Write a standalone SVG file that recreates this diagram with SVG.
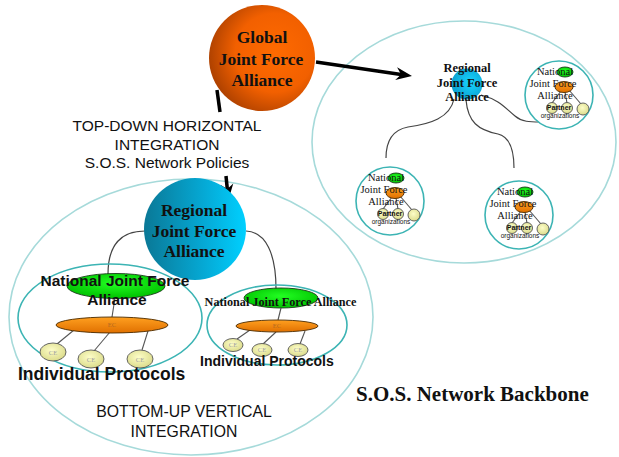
<svg xmlns="http://www.w3.org/2000/svg" width="619" height="457" viewBox="0 0 619 457">
<defs>
  <radialGradient id="gOrangeBig" cx="0.62" cy="0.45" r="0.62">
    <stop offset="0" stop-color="#ff6a00"/>
    <stop offset="0.6" stop-color="#f26000"/>
    <stop offset="1" stop-color="#b04200"/>
  </radialGradient>
  <linearGradient id="gCyanBig" x1="0" y1="0" x2="1" y2="0">
    <stop offset="0" stop-color="#0a7896"/>
    <stop offset="0.6" stop-color="#05aad6"/>
    <stop offset="1" stop-color="#00d0ff"/>
  </linearGradient>
  <radialGradient id="gCyanSmall" cx="0.6" cy="0.45" r="0.6">
    <stop offset="0" stop-color="#18d4ff"/>
    <stop offset="1" stop-color="#0aa0d0"/>
  </radialGradient>
  <radialGradient id="gGreen" cx="0.5" cy="0.4" r="0.6">
    <stop offset="0" stop-color="#22ff22"/>
    <stop offset="1" stop-color="#00c000"/>
  </radialGradient>
  <linearGradient id="gOrange" x1="0" y1="0" x2="0" y2="1">
    <stop offset="0" stop-color="#ffa020"/>
    <stop offset="1" stop-color="#e07000"/>
  </linearGradient>
  <radialGradient id="gPale" cx="0.45" cy="0.4" r="0.6">
    <stop offset="0" stop-color="#fdfdc8"/>
    <stop offset="1" stop-color="#dcdc8c"/>
  </radialGradient>
  <marker id="head" markerUnits="userSpaceOnUse" markerWidth="20" markerHeight="16" viewBox="-17 -8 20 16" refX="-11" refY="0" orient="auto">
    <path d="M0,0 L-16,-6.5 L-11,0 L-16,6.5 Z" fill="#000"/>
  </marker>
  <style>
    .big { fill: none; stroke: #a6dada; stroke-width: 1.6; }
    .clus { fill: none; stroke: #3cb4b4; stroke-width: 1.6; }
    .sclus { fill: #fff; stroke: #3cb4b4; stroke-width: 1.6; }
    .green { fill: url(#gGreen); stroke: #1a3a1a; stroke-width: 0.9; }
    .orange { fill: url(#gOrange); stroke: #4a2a00; stroke-width: 0.9; }
    .pale { fill: url(#gPale); stroke: #555; stroke-width: 0.9; }
    .link { fill: none; stroke: #555; stroke-width: 1.1; }
    .curve { fill: none; stroke: #444; stroke-width: 1.2; }
    .arrow { fill: none; stroke: #000; stroke-width: 3.5; }
    .serifb { font-family: "Liberation Serif", "Times New Roman", serif; font-weight: bold; fill: #111; }
    .serif { font-family: "Liberation Serif", "Times New Roman", serif; fill: #111; }
    .sans { font-family: "Liberation Sans", Arial, sans-serif; fill: #111; }
    .tiny { font-family: "Liberation Serif", serif; font-size: 6.5px; fill: #a0a0a0; }
    .tinyo { font-family: "Liberation Serif", serif; font-size: 6.5px; fill: #b56a20; }
  </style>
</defs>
<rect x="0" y="0" width="619" height="457" fill="#ffffff"/>

<!-- big backbone ellipses -->
<g id="backbone-right">
  <ellipse class="big" cx="464" cy="142" rx="152" ry="121"/>
</g>
<g id="backbone-left">
  <ellipse class="big" cx="191" cy="317" rx="182" ry="138"/>
</g>

<!-- connectors -->
<g id="connectors">
  <path class="curve" d="M145,231 C122,231 108,244 108,274"/>
  <path class="curve" d="M246,231 C266,232 276,254 276,289"/>
  <path class="curve" d="M454,99 C450,118 430,124 408,127 C392,130 386,142 386,158"/>
  <path class="curve" d="M466,100 C468,122 478,130 498,134 C510,137 514,150 514,168"/>
  <path class="curve" d="M481,95 C500,100 505,108 515,116 C522,122 530,122 540,122"/>
  <line class="arrow" x1="316" y1="62" x2="401.1" y2="74.4" marker-end="url(#head)"/>
  <line class="arrow" x1="217" y1="90" x2="220" y2="112"/>
  <line class="arrow" x1="226" y1="176" x2="227.3" y2="189" marker-end="url(#head)"/>
</g>

<!-- Global node -->
<g id="global">
  <circle cx="262" cy="58" r="53" fill="url(#gOrangeBig)"/>
  <text class="serifb" font-size="17.5" text-anchor="middle" x="262" y="43">Global</text>
  <text class="serifb" font-size="17.5" text-anchor="middle" x="261" y="65">Joint Force</text>
  <text class="serifb" font-size="17.5" text-anchor="middle" x="262" y="86">Alliance</text>
</g>

<!-- top-down label -->
<g id="topdown-label">
  <text class="sans" font-size="15.5" text-anchor="middle" x="167" y="131">TOP-DOWN HORIZONTAL</text>
  <text class="sans" font-size="15.5" text-anchor="middle" x="167" y="150">INTEGRATION</text>
  <text class="sans" font-size="15.5" text-anchor="middle" x="167" y="168">S.O.S. Network Policies</text>
</g>

<!-- Left regional -->
<g id="regional-left">
  <circle cx="195" cy="229" r="51" fill="url(#gCyanBig)"/>
  <text class="serifb" font-size="17.5" text-anchor="middle" x="194" y="216">Regional</text>
  <text class="serifb" font-size="17.5" text-anchor="middle" x="194" y="237">Joint Force</text>
  <text class="serifb" font-size="17.5" text-anchor="middle" x="194" y="257">Alliance</text>
</g>

<!-- Left national cluster -->
<g id="national-left">
  <ellipse class="clus" cx="110" cy="318" rx="92" ry="54"/>
  <ellipse class="green" cx="116" cy="286" rx="49" ry="12.5"/>
  <line class="link" x1="115" y1="298" x2="112" y2="317"/>
  <line class="link" x1="74" y1="330" x2="57" y2="344"/>
  <line class="link" x1="110" y1="332" x2="94" y2="351"/>
  <line class="link" x1="148" y1="331" x2="142" y2="350"/>
  <ellipse class="orange" cx="112" cy="325" rx="56" ry="8"/>
  <text class="tinyo" text-anchor="middle" x="112" y="327">EC</text>
  <ellipse class="pale" cx="53" cy="352" rx="13" ry="9"/>
  <ellipse class="pale" cx="91" cy="359" rx="13" ry="9"/>
  <ellipse class="pale" cx="140" cy="359" rx="13" ry="9"/>
  <text class="tiny" text-anchor="middle" x="53" y="355">CE</text>
  <text class="tiny" text-anchor="middle" x="91" y="362">CE</text>
  <text class="tiny" text-anchor="middle" x="140" y="362">CE</text>
  <text class="sans" font-size="15.5" font-weight="bold" text-anchor="middle" x="115" y="286">National Joint Force</text>
  <text class="sans" font-size="15.5" font-weight="bold" text-anchor="middle" x="117" y="305">Alliance</text>
  <text class="sans" font-size="17.5" font-weight="bold" x="18" y="380">Individual Protocols</text>
</g>

<!-- Middle national cluster -->
<g id="national-mid">
  <ellipse class="clus" cx="277" cy="325" rx="70" ry="40"/>
  <ellipse class="green" cx="281" cy="298" rx="37" ry="10"/>
  <line class="link" x1="281" y1="308" x2="278" y2="320"/>
  <line class="link" x1="250" y1="330" x2="237" y2="339"/>
  <line class="link" x1="276" y1="332" x2="263" y2="344"/>
  <line class="link" x1="305" y1="331" x2="300" y2="344"/>
  <ellipse class="orange" cx="277" cy="326" rx="41" ry="6"/>
  <text class="tinyo" text-anchor="middle" x="277" y="328">EC</text>
  <ellipse class="pale" cx="233" cy="345" rx="10" ry="6.5"/>
  <ellipse class="pale" cx="262" cy="350" rx="10" ry="6.5"/>
  <ellipse class="pale" cx="298" cy="350" rx="10" ry="6.5"/>
  <text class="tiny" font-size="5.5" text-anchor="middle" x="233" y="347">CE</text>
  <text class="tiny" font-size="5.5" text-anchor="middle" x="262" y="352">CE</text>
  <text class="tiny" font-size="5.5" text-anchor="middle" x="298" y="352">CE</text>
  <text class="serifb" font-size="12.2" text-anchor="middle" x="280.5" y="306">National Joint Force Alliance</text>
  <text class="sans" font-size="14" font-weight="bold" x="200" y="366">Individual Protocols</text>
</g>

<!-- bottom-up label -->
<g id="bottomup-label">
  <text class="sans" font-size="15.8" text-anchor="middle" x="184" y="417">BOTTOM-UP VERTICAL</text>
  <text class="sans" font-size="15.8" text-anchor="middle" x="184" y="437">INTEGRATION</text>
</g>

<!-- Right regional -->
<g id="regional-right">
  <circle cx="467" cy="84" r="15.5" fill="url(#gCyanSmall)"/>
  <text class="serifb" font-size="12.5" text-anchor="middle" x="467" y="72">Regional</text>
  <text class="serifb" font-size="12.5" text-anchor="middle" x="467" y="87">Joint Force</text>
  <text class="serifb" font-size="12.5" text-anchor="middle" x="467" y="101">Alliance</text>
</g>

<!-- Small national nodes -->
<g id="national-r1" transform="translate(559,95)">
  <circle class="sclus" cx="0" cy="0" r="34"/>
  <ellipse class="green" cx="6" cy="-23" rx="8" ry="5"/>
  <line class="link" x1="2" y1="-4" x2="-7" y2="8"/>
  <line class="link" x1="6" y1="-3" x2="8" y2="8"/>
  <line class="link" x1="10" y1="-5" x2="22" y2="9"/>
  <ellipse class="orange" cx="5" cy="-8" rx="9" ry="5.5"/>
  <circle class="pale" cx="-7" cy="13" r="5.5"/>
  <circle class="pale" cx="8" cy="13" r="5.5"/>
  <circle class="pale" cx="24" cy="14" r="6"/>
  <text class="serif" font-size="10.5" text-anchor="middle" x="-4" y="-20">National</text>
  <text class="serif" font-size="10.5" text-anchor="middle" x="-6" y="-8">Joint Force</text>
  <text class="serif" font-size="10.5" text-anchor="middle" x="-4" y="4">Alliance</text>
  <text class="sans" font-size="7" font-weight="bold" text-anchor="middle" x="0" y="15">Partner</text>
  <text class="sans" font-size="6.5" text-anchor="middle" x="1" y="23">organizations</text>
</g>
<g id="national-r2" transform="translate(390,201)">
  <circle class="sclus" cx="0" cy="0" r="34"/>
  <ellipse class="green" cx="6" cy="-23" rx="8" ry="5"/>
  <line class="link" x1="2" y1="-4" x2="-7" y2="8"/>
  <line class="link" x1="6" y1="-3" x2="8" y2="8"/>
  <line class="link" x1="10" y1="-5" x2="22" y2="9"/>
  <ellipse class="orange" cx="5" cy="-8" rx="9" ry="5.5"/>
  <circle class="pale" cx="-7" cy="13" r="5.5"/>
  <circle class="pale" cx="8" cy="13" r="5.5"/>
  <circle class="pale" cx="24" cy="14" r="6"/>
  <text class="serif" font-size="10.5" text-anchor="middle" x="-4" y="-20">National</text>
  <text class="serif" font-size="10.5" text-anchor="middle" x="-6" y="-8">Joint Force</text>
  <text class="serif" font-size="10.5" text-anchor="middle" x="-4" y="4">Alliance</text>
  <text class="sans" font-size="7" font-weight="bold" text-anchor="middle" x="0" y="15">Partner</text>
  <text class="sans" font-size="6.5" text-anchor="middle" x="1" y="23">organizations</text>
</g>
<g id="national-r3" transform="translate(519,215)">
  <circle class="sclus" cx="0" cy="0" r="34"/>
  <ellipse class="green" cx="6" cy="-23" rx="8" ry="5"/>
  <line class="link" x1="2" y1="-4" x2="-7" y2="8"/>
  <line class="link" x1="6" y1="-3" x2="8" y2="8"/>
  <line class="link" x1="10" y1="-5" x2="22" y2="9"/>
  <ellipse class="orange" cx="5" cy="-8" rx="9" ry="5.5"/>
  <circle class="pale" cx="-7" cy="13" r="5.5"/>
  <circle class="pale" cx="8" cy="13" r="5.5"/>
  <circle class="pale" cx="24" cy="14" r="6"/>
  <text class="serif" font-size="10.5" text-anchor="middle" x="-4" y="-20">National</text>
  <text class="serif" font-size="10.5" text-anchor="middle" x="-6" y="-8">Joint Force</text>
  <text class="serif" font-size="10.5" text-anchor="middle" x="-4" y="4">Alliance</text>
  <text class="sans" font-size="7" font-weight="bold" text-anchor="middle" x="0" y="15">Partner</text>
  <text class="sans" font-size="6.5" text-anchor="middle" x="1" y="23">organizations</text>
</g>

<g id="backbone-label">
  <text class="serifb" font-size="21" x="356" y="401">S.O.S. Network Backbone</text>
</g>
</svg>
